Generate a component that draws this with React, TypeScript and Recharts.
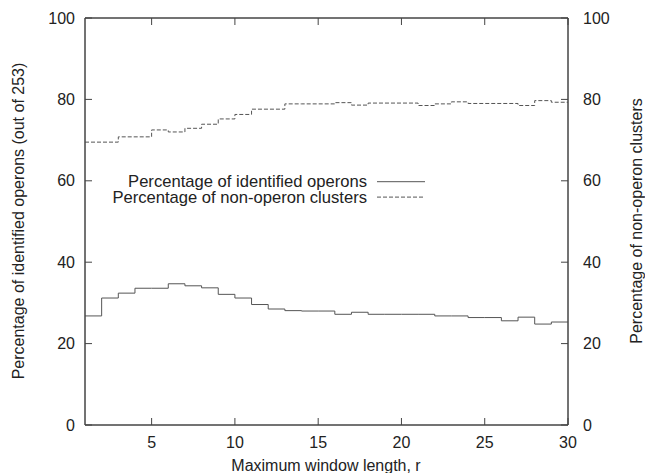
import React from "react";
import { Legend, Line, LineChart, ReferenceArea, XAxis, YAxis } from "recharts";

// window length r = 1..30
const windowLength = [
  1, 2, 3, 4, 5, 6, 7, 8, 9, 10, 11, 12, 13, 14, 15, 16, 17, 18, 19, 20, 21, 22, 23, 24, 25, 26, 27, 28, 29, 30,
];
const identifiedOperons = [
  26.8, 31.2, 32.4, 33.6, 33.6, 34.7, 34.2, 33.7, 32.1, 31.2, 29.6, 28.5, 28.1, 28.0, 28.0, 27.2, 27.7, 27.2, 27.2,
  27.2, 27.2, 26.8, 26.8, 26.4, 26.4, 25.6, 26.5, 24.8, 25.3, 25.3,
];
const nonOperonClusters = [
  69.5, 69.5, 70.8, 70.8, 72.5, 72.0, 72.9, 73.9, 75.2, 76.3, 77.6, 77.6, 78.9, 78.9, 78.9, 79.2, 78.6, 79.1, 79.1,
  79.1, 78.5, 78.9, 79.4, 79.0, 79.0, 79.0, 78.5, 79.7, 79.3, 79.3,
];
const xTicks = [5, 10, 15, 20, 25, 30];
const yTicks = [0, 20, 40, 60, 80, 100];

const data = windowLength.map((r, i) => ({
  r,
  operons: identifiedOperons[i],
  clusters: nonOperonClusters[i],
}));

const FONT = "'Liberation Sans', Arial, sans-serif";
const TEXT = "#222";
const AXIS = "#444";
const LINE = "#555";
const TICK = 7;

const LeftTick = ({ x, y, payload }: any) => (
  <g>
    <line x1={x} y1={y} x2={x + TICK} y2={y} stroke={AXIS} />
    <text x={x - 10} y={y} textAnchor="end" dominantBaseline="central" fontSize={16} fontFamily={FONT} fill={TEXT}>
      {payload.value}
    </text>
  </g>
);

const RightTick = ({ x, y, payload }: any) => (
  <g>
    <line x1={x} y1={y} x2={x - TICK} y2={y} stroke={AXIS} />
    <text x={x + 15} y={y} textAnchor="start" dominantBaseline="central" fontSize={16} fontFamily={FONT} fill={TEXT}>
      {payload.value}
    </text>
  </g>
);

const BottomTick = ({ x, y, payload }: any) => (
  <g>
    <line x1={x} y1={y} x2={x} y2={y - TICK} stroke={AXIS} />
    <text x={x} y={y + 17} textAnchor="middle" dominantBaseline="central" fontSize={16} fontFamily={FONT} fill={TEXT}>
      {payload.value}
    </text>
  </g>
);

const TopTick = ({ x, y }: any) => <line x1={x} y1={y} x2={x} y2={y + TICK} stroke={AXIS} />;

const KeyBox = ({ payload }: any) => (
  <svg width={340} height={50} style={{ overflow: "visible" }}>
    {(payload || []).map((item: any, i: number) => {
      const cy = 17.7 + i * 15.4;
      return (
        <g key={item.value}>
          <text x={277} y={cy} textAnchor="end" dominantBaseline="central" fontSize={16.6} fontFamily={FONT} fill={TEXT}>
            {item.value}
          </text>
          <line
            x1={287}
            y1={cy}
            x2={335}
            y2={cy}
            stroke={LINE}
            strokeDasharray={item.payload?.strokeDasharray}
          />
        </g>
      );
    })}
  </svg>
);

export default function App() {
  return (
    <div style={{ position: "absolute", left: 0, top: 0, background: "#fff" }}>
      <LineChart width={645} height={473} data={data} margin={{ top: 8, right: 0, bottom: 0, left: 0 }}>
        <XAxis
          dataKey="r"
          type="number"
          domain={[1, 30]}
          ticks={xTicks}
          allowDataOverflow
          height={48}
          stroke={AXIS}
          tickLine={false}
          tickSize={0}
          tickMargin={0}
          tick={<BottomTick />}
          label={{
            content: () => (
              <text x={326} y={465} textAnchor="middle" dominantBaseline="central" fontSize={16} fontFamily={FONT} fill={TEXT}>
                Maximum window length, r
              </text>
            ),
          }}
        />
        <XAxis
          xAxisId="top"
          orientation="top"
          dataKey="r"
          type="number"
          domain={[1, 30]}
          ticks={xTicks}
          allowDataOverflow
          height={10}
          stroke={AXIS}
          axisLine={{ stroke: AXIS }}
          tickLine={false}
          tickSize={0}
          tickMargin={0}
          tick={<TopTick />}
        />
        <YAxis
          yAxisId="left"
          domain={[0, 100]}
          ticks={yTicks}
          width={85}
          stroke={AXIS}
          tickLine={false}
          tickSize={0}
          tickMargin={0}
          tick={<LeftTick />}
          label={{
            content: () => (
              <text
                x={18}
                y={221}
                transform="rotate(-90 18 221)"
                textAnchor="middle"
                dominantBaseline="central"
                fontSize={16}
                fontFamily={FONT}
                fill={TEXT}
              >
                Percentage of identified operons (out of 253)
              </text>
            ),
          }}
        />
        <YAxis
          yAxisId="right"
          orientation="right"
          domain={[0, 100]}
          ticks={yTicks}
          width={77}
          stroke={AXIS}
          tickLine={false}
          tickSize={0}
          tickMargin={0}
          tick={<RightTick />}
          label={{
            content: () => (
              <text
                x={636}
                y={221}
                transform="rotate(-90 636 221)"
                textAnchor="middle"
                dominantBaseline="central"
                fontSize={16}
                fontFamily={FONT}
                fill={TEXT}
              >
                Percentage of non-operon clusters
              </text>
            ),
          }}
        />
        <ReferenceArea
          yAxisId="left"
          x1={1}
          x2={30}
          y1={0}
          y2={100}
          fill="none"
          stroke={AXIS}
          ifOverflow="visible"
        />
        <Legend
          layout="vertical"
          align="center"
          verticalAlign="middle"
          content={<KeyBox />}
          wrapperStyle={{ left: 90, top: 164, width: 340, height: 50 }}
        />
        <Line
          yAxisId="left"
          type="stepAfter"
          dataKey="operons"
          name="Percentage of identified operons"
          stroke={LINE}
          strokeWidth={1}
          dot={false}
          activeDot={false}
          isAnimationActive={false}
        />
        <Line
          xAxisId="top"
          yAxisId="right"
          type="stepAfter"
          dataKey="clusters"
          name="Percentage of non-operon clusters"
          stroke={LINE}
          strokeWidth={1}
          strokeDasharray="4 2"
          dot={false}
          activeDot={false}
          isAnimationActive={false}
        />
      </LineChart>
    </div>
  );
}
